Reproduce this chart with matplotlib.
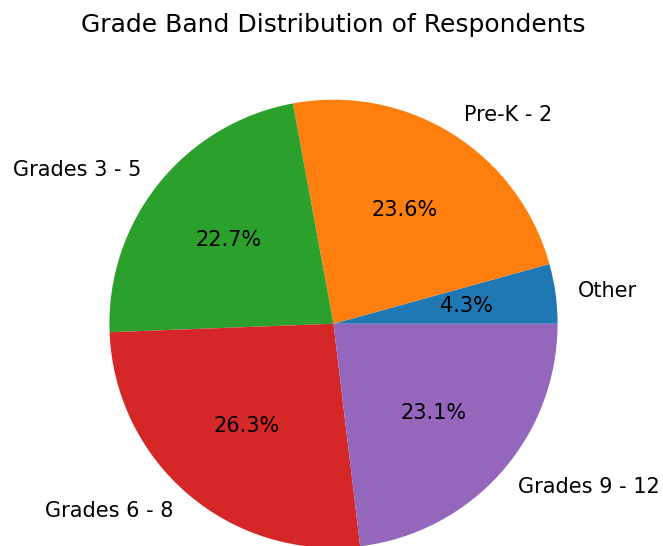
import matplotlib
matplotlib.use("Agg")
import matplotlib.pyplot as plt

labels = ["Other", "Pre-K - 2", "Grades 3 - 5", "Grades 6 - 8", "Grades 9 - 12"]
shares = [4.3, 23.6, 22.7, 26.3, 23.1]

fig = plt.figure(figsize=(6.63, 5.46), dpi=100)
ax = fig.add_axes([0.003, -0.106, 1.0, 1.026])
ax.pie(shares, labels=labels, autopct="%1.1f%%",
       textprops={"fontsize": 15})
ax.set_aspect("equal")
fig.text(0.503, 0.955, "Grade Band Distribution of Respondents",
         fontsize=18, ha="center", va="center")
fig.savefig("out.png", dpi=100)
